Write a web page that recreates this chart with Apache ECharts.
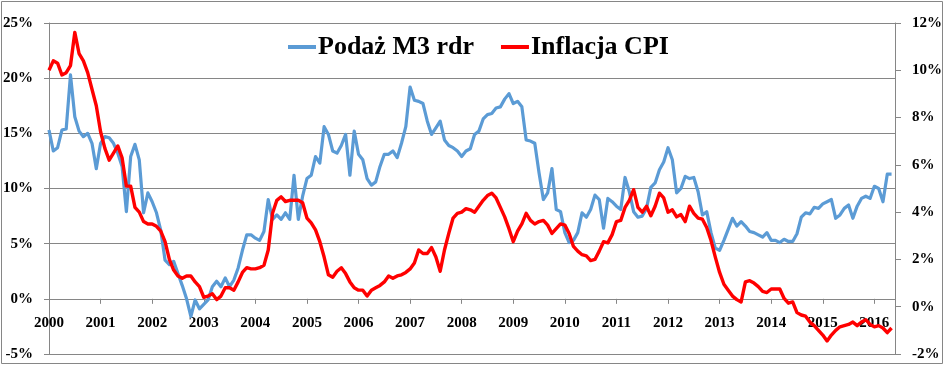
<!DOCTYPE html>
<html>
<head>
<meta charset="utf-8">
<script src="https://cdn.jsdelivr.net/npm/echarts@6/dist/echarts.min.js"></script>
<style>html,body{margin:0;padding:0;background:#fff}#c{width:945px;height:367px}</style>
</head>
<body>
<div id="c"></div>
<script>
// Monthly data, Jan 2000 .. May 2016
const yearLabels = ['2000','2001','2002','2003','2004','2005','2006','2007','2008','2009','2010','2011','2012','2013','2014','2015','2016'];
const seriesNames = ['Podaż M3 rdr', 'Inflacja CPI'];
const leftTicks = { min: -5, max: 25, step: 5 };
const rightTicks = { min: -2, max: 12, step: 2 };

const m3 = [
  15.3, 13.4, 13.7, 15.3, 15.4, 20.3, 16.5, 15.2, 14.7, 15.0, 14.1, 11.8,
  14.1, 14.7, 14.6, 14.1, 13.2, 12.0, 7.9, 12.9, 14.0, 12.6, 7.8, 9.6,
  8.8, 7.8, 6.2, 3.5, 3.1, 3.4, 2.3, 1.2, 0.0, -1.6, -0.1, -0.9,
  -0.5, -0.1, 1.1, 1.6, 1.1, 1.9, 1.1, 1.7, 2.8, 4.4, 5.8, 5.8,
  5.5, 5.3, 6.1, 9.0, 7.2, 7.6, 7.2, 7.8, 7.2, 11.2, 7.2, 9.3,
  10.9, 11.2, 12.9, 12.3, 15.6, 14.9, 13.4, 13.2, 13.9, 14.9, 11.2, 15.2,
  13.1, 12.6, 10.9, 10.3, 10.6, 12.0, 13.1, 13.1, 13.4, 12.8, 14.1, 15.6,
  19.2, 18.0, 17.9, 17.7, 16.1, 14.9, 15.5, 16.1, 14.4, 13.9, 13.7, 13.4,
  12.9, 13.4, 13.6, 14.9, 15.2, 16.3, 16.7, 16.8, 17.3, 17.4, 18.1, 18.6,
  17.7, 17.9, 17.4, 14.4, 14.3, 14.1, 11.4, 9.0, 9.6, 11.8, 8.1, 7.9,
  6.0, 5.1, 5.3, 6.0, 7.8, 7.4, 8.1, 9.4, 9.0, 6.4, 9.1, 8.8,
  8.4, 8.1, 11.0, 9.7, 7.9, 7.4, 7.5, 8.2, 10.1, 10.5, 11.7, 12.4,
  13.7, 12.6, 9.6, 10.0, 11.1, 10.9, 11.0, 9.7, 7.6, 7.9, 6.0, 4.6,
  4.4, 5.3, 6.3, 7.3, 6.6, 7.0, 6.6, 6.1, 6.0, 5.8, 5.6, 6.0,
  5.3, 5.3, 5.1, 5.4, 5.2, 5.2, 5.9, 7.4, 7.8, 7.7, 8.3, 8.2,
  8.6, 8.8, 9.0, 7.3, 7.6, 8.2, 8.5, 7.3, 8.4, 9.1, 9.3, 9.1,
  10.2, 10.0, 8.8, 11.3, 11.3
];

const cpi = [
  10.0, 10.4, 10.3, 9.8, 9.9, 10.2, 11.6, 10.7, 10.4, 9.9, 9.2, 8.5,
  7.4, 6.7, 6.2, 6.5, 6.8, 6.3, 5.1, 5.1, 4.2, 4.0, 3.6, 3.5,
  3.5, 3.4, 3.2, 2.75, 2.0, 1.55, 1.3, 1.2, 1.3, 1.3, 1.05, 0.85,
  0.4, 0.45, 0.55, 0.3, 0.45, 0.8, 0.8, 0.7, 1.05, 1.45, 1.65, 1.6,
  1.6, 1.65, 1.75, 2.4, 3.95, 4.5, 4.65, 4.45, 4.5, 4.5, 4.5, 4.4,
  3.75, 3.55, 3.25, 2.75, 2.1, 1.35, 1.25, 1.5, 1.65, 1.4, 1.05, 0.8,
  0.7, 0.7, 0.45, 0.7, 0.8, 0.9, 1.05, 1.3, 1.2, 1.3, 1.35, 1.45,
  1.6, 1.85, 2.4, 2.25, 2.25, 2.5, 2.1, 1.5, 2.4, 3.1, 3.75, 3.95,
  4.0, 4.15, 4.1, 4.0, 4.25, 4.5, 4.7, 4.8, 4.6, 4.2, 3.8, 3.3,
  2.75, 3.2, 3.5, 3.95, 3.65, 3.5, 3.6, 3.65, 3.45, 3.1, 3.3, 3.5,
  3.45, 3.1, 2.55, 2.35, 2.2, 2.15, 1.95, 2.0, 2.35, 2.75, 2.7, 3.05,
  3.6, 3.65, 4.2, 4.5, 4.95, 4.2, 4.0, 4.25, 3.85, 4.25, 4.8, 4.6,
  4.0, 4.1, 3.8, 3.9, 3.6, 4.25, 3.95, 3.75, 3.7, 3.35, 2.8, 2.1,
  1.45, 0.95, 0.7, 0.45, 0.3, 0.2, 1.05, 1.1, 1.0, 0.85, 0.65, 0.6,
  0.75, 0.75, 0.75, 0.35, 0.15, 0.2, -0.25, -0.35, -0.4, -0.65, -0.8, -1.0,
  -1.2, -1.45, -1.2, -1.0, -0.85, -0.8, -0.75, -0.65, -0.8, -0.65, -0.55, -0.75,
  -0.85, -0.8, -0.9, -1.1, -0.9
];

const toPairs = arr => arr.map((v, i) => [i, v]);
const labelFont = { fontFamily: 'Liberation Serif', fontWeight: 'bold', fontSize: 15, color: '#000' };
const gray = '#868686';
const gridTop = 23, gridBottom = 13, chartH = 367;
const plotH = chartH - gridTop - gridBottom;
// shift x axis from the bottom edge up to the 0% level of the left axis
const xOffset = -plotH * (0 - leftTicks.min) / (leftTicks.max - leftTicks.min);

const chart = echarts.init(document.getElementById('c'), null, { renderer: 'canvas' });
chart.setOption({
  animation: false,
  backgroundColor: '#fff',
  grid: { left: 48, right: 49, top: gridTop, bottom: gridBottom, containLabel: false },
  legend: {
    left: 283, top: 29,
    itemWidth: 28, itemHeight: 4, itemGap: 27,
    icon: 'rect',
    textStyle: { fontFamily: 'Liberation Serif', fontWeight: 'bold', fontSize: 26, color: '#000', padding: [0, 0, 0, -3] },
    data: seriesNames
  },
  xAxis: {
    type: 'value', min: 0, max: 196.8, interval: 12,
    offset: xOffset,
    axisLine: { show: true, onZero: false, lineStyle: { color: gray, width: 1 } },
    axisTick: { show: true, length: 5, lineStyle: { color: gray } },
    splitLine: { show: false },
    axisLabel: Object.assign({ margin: 17, showMaxLabel: false,
      formatter: v => (v % 12 === 0 ? (yearLabels[v / 12] || '') : '') }, labelFont)
  },
  yAxis: [
    {
      type: 'value', min: leftTicks.min, max: leftTicks.max, interval: leftTicks.step, position: 'left',
      axisLine: { show: true, onZero: false, lineStyle: { color: gray } },
      axisTick: { show: true, length: 5, lineStyle: { color: gray } },
      splitLine: { show: true, lineStyle: { color: gray, width: 1 } },
      axisLabel: Object.assign({ margin: 16, formatter: v => v + '%' }, labelFont)
    },
    {
      type: 'value', min: rightTicks.min, max: rightTicks.max, interval: rightTicks.step, position: 'right',
      axisLine: { show: true, onZero: false, lineStyle: { color: gray } },
      axisTick: { show: true, length: 6, lineStyle: { color: gray } },
      splitLine: { show: false },
      axisLabel: Object.assign({ margin: 17, formatter: v => v + '%' }, labelFont)
    }
  ],
  graphic: [{
    type: 'rect', shape: { x: 1.5, y: 1.5, width: 941, height: 362 },
    style: { fill: null, stroke: gray, lineWidth: 1 }, silent: true, z: 100
  }],
  series: [
    {
      name: seriesNames[0], type: 'line', yAxisIndex: 0, data: toPairs(m3),
      showSymbol: false, symbol: 'none',
      lineStyle: { color: '#5B9BD5', width: 3.2, join: 'round' }, itemStyle: { color: '#5B9BD5' }, z: 2
    },
    {
      name: seriesNames[1], type: 'line', yAxisIndex: 1, data: toPairs(cpi),
      showSymbol: false, symbol: 'none',
      lineStyle: { color: '#FF0000', width: 3.4, join: 'round' }, itemStyle: { color: '#FF0000' }, z: 3
    }
  ]
});
</script>
</body>
</html>
